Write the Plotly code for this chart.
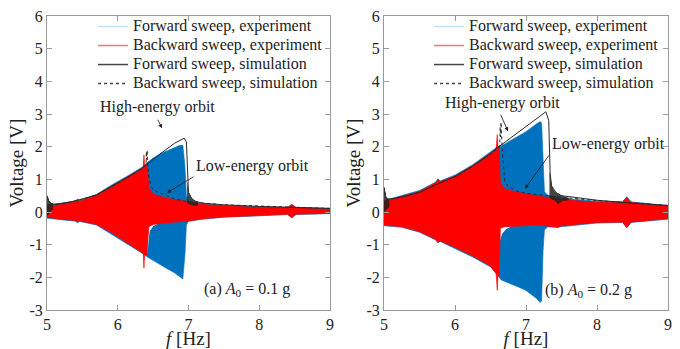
import plotly.graph_objects as go

# ---------------- data ----------------
# Panel (a): A0 = 0.1 g
fa_fwd = [5.00, 5.20, 5.40, 5.43, 5.46, 5.70, 5.90, 6.15, 6.35, 6.42, 6.50, 6.60, 6.70, 6.80, 6.88, 6.92, 6.95, 6.97, 7.00, 7.20, 7.50, 8.00, 8.40, 8.46, 8.52, 9.00]
va_fwd_top = [0.22, 0.28, 0.33, 0.40, 0.35, 0.54, 0.81, 1.12, 1.38, 1.52, 1.65, 1.78, 1.88, 1.97, 2.04, 2.04, 1.40, 0.50, 0.33, 0.25, 0.20, 0.16, 0.14, 0.24, 0.14, 0.11]
va_fwd_bot = [-0.19, -0.24, -0.28, -0.33, -0.29, -0.40, -0.65, -1.00, -1.27, -1.38, -1.50, -1.62, -1.74, -1.86, -1.98, -2.05, -1.30, -0.40, -0.28, -0.22, -0.16, -0.12, -0.08, -0.18, -0.08, -0.05]

fa_hole = [6.420, 6.428, 6.435, 6.45, 6.50, 6.56]
va_hole_top = [-0.45, -0.42, -0.40, -0.38, -0.37, -0.36]
va_hole_bot = [-1.30, -1.20, -0.90, -0.60, -0.44, -0.37]

fa_bwd = [5.00, 5.20, 5.40, 5.43, 5.46, 5.70, 5.90, 6.15, 6.34, 6.36, 6.37, 6.38, 6.41, 6.42, 6.44, 6.50, 6.60, 6.75, 7.00, 7.20, 7.50, 8.00, 8.40, 8.46, 8.52, 9.00]
va_bwd_top = [0.19, 0.25, 0.31, 0.38, 0.33, 0.52, 0.78, 1.09, 1.33, 1.36, 1.75, 1.40, 1.45, 1.45, 0.75, 0.55, 0.48, 0.40, 0.32, 0.24, 0.19, 0.14, 0.13, 0.23, 0.13, 0.10]
va_bwd_bot = [-0.16, -0.22, -0.26, -0.31, -0.27, -0.38, -0.62, -0.97, -1.24, -1.28, -1.72, -1.30, -1.33, -1.33, -0.45, -0.38, -0.35, -0.32, -0.28, -0.21, -0.15, -0.11, -0.07, -0.17, -0.07, -0.04]

fa_simf = [5.00, 5.02, 5.05, 5.10, 5.20, 5.42, 5.70, 5.90, 6.15, 6.34, 6.42, 6.60, 6.80, 6.90, 6.94, 6.97, 6.99, 7.00, 7.05, 7.10, 7.20, 7.50, 8.00, 8.50, 9.00]
va_simf = [0.50, 0.36, 0.27, 0.23, 0.25, 0.35, 0.52, 0.76, 1.07, 1.33, 1.47, 1.78, 2.10, 2.23, 2.26, 2.15, 1.20, 0.60, 0.40, 0.33, 0.27, 0.22, 0.17, 0.14, 0.11]

fa_ring1 = [5.00, 5.02, 5.05, 5.08]
va_ring1_top = [0.50, 0.36, 0.27, 0.23]
va_ring1_bot = [-0.12, -0.08, 0.00, 0.08]
fa_ring2 = [6.98, 7.00, 7.04, 7.08, 7.13]
va_ring2_top = [0.90, 0.60, 0.42, 0.34, 0.29]
va_ring2_bot = [0.28, 0.25, 0.22, 0.20, 0.20]

fa_simb = [9.00, 8.50, 8.00, 7.50, 7.00, 6.80, 6.64, 6.55, 6.48, 6.44, 6.42, 6.415, 6.41, 6.405, 6.40, 6.34, 6.15, 5.90, 5.70, 5.42, 5.20, 5.10, 5.05, 5.02, 5.00]
va_simb = [0.11, 0.14, 0.17, 0.22, 0.31, 0.40, 0.55, 0.62, 0.74, 1.05, 1.50, 1.90, 1.60, 1.85, 1.45, 1.33, 1.07, 0.76, 0.52, 0.35, 0.25, 0.23, 0.27, 0.36, 0.50]

# Panel (b): A0 = 0.2 g
fb_fwd = [5.00, 5.25, 5.50, 5.73, 5.76, 5.79, 6.00, 6.25, 6.50, 6.60, 6.65, 6.75, 6.90, 7.00, 7.15, 7.20, 7.22, 7.24, 7.26, 7.30, 7.50, 8.00, 8.36, 8.42, 8.48, 9.00]
vb_fwd_top = [0.35, 0.50, 0.66, 0.92, 1.02, 0.95, 1.13, 1.45, 1.83, 2.00, 2.02, 2.14, 2.33, 2.46, 2.70, 2.77, 2.72, 1.40, 0.62, 0.52, 0.42, 0.33, 0.31, 0.47, 0.31, 0.20]
vb_fwd_bot = [-0.42, -0.47, -0.62, -0.86, -0.95, -0.90, -1.11, -1.38, -1.68, -1.92, -2.08, -2.18, -2.30, -2.40, -2.65, -2.77, -2.72, -1.20, -0.55, -0.46, -0.45, -0.34, -0.32, -0.49, -0.32, -0.22]

fb_hole = [6.625, 6.632, 6.66, 6.72, 6.78]
vb_hole_top = [-0.50, -0.48, -0.46, -0.45, -0.45]
vb_hole_bot = [-2.00, -0.90, -0.68, -0.52, -0.46]

fb_bwd = [5.00, 5.25, 5.50, 5.73, 5.76, 5.79, 6.00, 6.25, 6.50, 6.58, 6.595, 6.605, 6.62, 6.64, 6.70, 6.85, 7.00, 7.20, 7.45, 7.50, 8.00, 8.36, 8.42, 8.48, 9.00]
vb_bwd_top = [0.32, 0.48, 0.63, 0.90, 1.00, 0.93, 1.10, 1.42, 1.80, 1.95, 2.37, 1.98, 2.00, 0.90, 0.72, 0.62, 0.55, 0.48, 0.40, 0.38, 0.30, 0.29, 0.45, 0.29, 0.18]
vb_bwd_bot = [-0.40, -0.45, -0.60, -0.84, -0.93, -0.88, -1.08, -1.35, -1.65, -1.90, -2.40, -1.95, -1.97, -0.50, -0.45, -0.44, -0.43, -0.40, -0.48, -0.42, -0.32, -0.31, -0.47, -0.31, -0.20]

fb_simf = [5.00, 5.02, 5.04, 5.10, 5.25, 5.50, 5.75, 6.00, 6.25, 6.50, 6.60, 6.80, 7.00, 7.20, 7.25, 7.28, 7.32, 7.34, 7.36, 7.42, 7.50, 8.00, 8.50, 9.00]
vb_simf = [0.75, 0.50, 0.40, 0.40, 0.46, 0.60, 0.86, 1.08, 1.40, 1.78, 1.97, 2.30, 2.62, 2.95, 3.04, 3.07, 2.80, 1.20, 0.80, 0.60, 0.50, 0.36, 0.27, 0.20]

fb_ring1 = [5.00, 5.02, 5.04, 5.07]
vb_ring1_top = [0.75, 0.50, 0.40, 0.38]
vb_ring1_bot = [0.00, 0.05, 0.10, 0.15]
fb_ring2 = [7.33, 7.36, 7.40, 7.45, 7.52, 7.60]
vb_ring2_top = [1.20, 0.80, 0.63, 0.55, 0.48, 0.43]
vb_ring2_bot = [0.45, 0.40, 0.37, 0.25, 0.35, 0.37]

fb_simb = [9.00, 8.50, 8.00, 7.50, 7.20, 7.00, 6.87, 6.75, 6.70, 6.68, 6.665, 6.655, 6.648, 6.642, 6.636, 6.63, 6.50, 6.25, 6.00, 5.75, 5.50, 5.25, 5.10, 5.04, 5.02, 5.00]
vb_simb = [0.20, 0.27, 0.35, 0.45, 0.51, 0.57, 0.64, 0.78, 0.95, 1.40, 1.96, 2.40, 2.75, 2.30, 2.60, 2.00, 1.78, 1.40, 1.08, 0.86, 0.60, 0.46, 0.40, 0.40, 0.50, 0.75]

legend_names = ["Forward sweep, experiment", "Backward sweep, experiment",
                "Forward sweep, simulation", "Backward sweep, simulation"]
x_ticks = [5, 6, 7, 8, 9]
y_ticks = [-3, -2, -1, 0, 1, 2, 3, 4, 5, 6]
y_tick_text = ["-3", "-2", "-1", "0", "1", "2", "3", "4", "5", "6"]

# ---------------- styling ----------------
W, H = 680, 349
ML, MR, MT, MB = 47, 12, 14, 39
PW, PH = W - ML - MR, H - MT - MB
FONT = "Liberation Serif, Times New Roman, serif"
BLUE = "#0072BD"
RED = "#FF0000"
DARK = "#2a2a2a"
AXC = "#9a9a9a"

def pp(px, py):
    return (px - ML) / PW, (H - MB - py) / PH

fig = go.Figure()

def band(f, top, bot, color, xa, ya, lw=0.6):
    fig.add_trace(go.Scatter(
        x=list(f) + list(f)[::-1], y=list(top) + list(bot)[::-1],
        fill="toself", fillcolor=color, mode="lines",
        line=dict(color=color, width=lw),
        showlegend=False, hoverinfo="skip", xaxis=xa, yaxis=ya))

panels = [
    dict(xa="x", ya="y", leg="legend",
         fwd=(fa_fwd, va_fwd_top, va_fwd_bot), hole=(fa_hole, va_hole_top, va_hole_bot),
         bwd=(fa_bwd, va_bwd_top, va_bwd_bot),
         rings=[(fa_ring1, va_ring1_top, va_ring1_bot), (fa_ring2, va_ring2_top, va_ring2_bot)],
         simf=(fa_simf, va_simf), simb=(fa_simb, va_simb)),
    dict(xa="x2", ya="y2", leg="legend2",
         fwd=(fb_fwd, vb_fwd_top, vb_fwd_bot), hole=(fb_hole, vb_hole_top, vb_hole_bot),
         bwd=(fb_bwd, vb_bwd_top, vb_bwd_bot),
         rings=[(fb_ring1, vb_ring1_top, vb_ring1_bot), (fb_ring2, vb_ring2_top, vb_ring2_bot)],
         simf=(fb_simf, vb_simf), simb=(fb_simb, vb_simb)),
]

styles = [dict(color="#bfe0f5", width=1.5), dict(color="#ff7070", width=1.5),
          dict(color="#444444", width=1.5), dict(color="#444444", width=1.5, dash="dot")]

for p in panels:
    xa, ya = p["xa"], p["ya"]
    band(*p["fwd"], BLUE, xa, ya)
    band(*p["hole"], "#ffffff", xa, ya, lw=0)
    band(*p["bwd"], RED, xa, ya)
    for r in p["rings"]:
        band(*r, "rgba(35,35,35,0.85)", xa, ya, lw=0.5)
    fig.add_trace(go.Scatter(x=p["simf"][0], y=p["simf"][1], mode="lines",
                             line=dict(color=DARK, width=1), showlegend=False,
                             hoverinfo="skip", xaxis=xa, yaxis=ya))
    fig.add_trace(go.Scatter(x=p["simb"][0], y=p["simb"][1], mode="lines",
                             line=dict(color=DARK, width=1, dash="dot"), showlegend=False,
                             hoverinfo="skip", xaxis=xa, yaxis=ya))
    for name, st in zip(legend_names, styles):
        fig.add_trace(go.Scatter(x=[None], y=[None], mode="lines",
                                 name='<span style="font-size:16px">%s</span>' % name, line=st,
                                 legend=p["leg"], xaxis=xa, yaxis=ya))

def axis(**kw):
    d = dict(showline=True, linecolor=AXC, linewidth=1, mirror="ticks",
             ticks="inside", ticklen=5, tickcolor=AXC, showgrid=False, zeroline=False,
             automargin=False, tickfont=dict(family=FONT, size=16, color="#222"))
    d.update(kw)
    return d

xa_dom = [0, (330 - ML) / PW]
xb_dom = [(384 - ML) / PW, 1]

def legend_at(px_text_left, py_top):
    x, y = pp(px_text_left - 40, py_top)
    return dict(x=x, y=y, xanchor="left", yanchor="top", bgcolor="rgba(0,0,0,0)",
                font=dict(family=FONT, size=11.5, color="#222"), tracegroupgap=0)

fig.update_layout(
    width=W, height=H, margin=dict(l=ML, r=MR, t=MT, b=MB),
    paper_bgcolor="white", plot_bgcolor="white",
    font=dict(family=FONT, size=16, color="#222"),
    xaxis=axis(domain=xa_dom, anchor="y", range=[5, 9], tickvals=x_ticks,
               title=dict(text="<i>f</i> [Hz]", standoff=0)),
    yaxis=axis(domain=[0, 1], anchor="x", range=[-3, 6], tickvals=y_ticks, ticktext=y_tick_text,
               title=dict(text="Voltage [V]", standoff=0)),
    xaxis2=axis(domain=xb_dom, anchor="y2", range=[5, 9], tickvals=x_ticks,
                title=dict(text="<i>f</i> [Hz]", standoff=0)),
    yaxis2=axis(domain=[0, 1], anchor="x2", range=[-3, 6], tickvals=y_ticks, ticktext=y_tick_text,
                title=dict(text="Voltage [V]", standoff=0)),
    legend=legend_at(133, 10),
    legend2=legend_at(469, 10),
    showlegend=True,
)

texts = [
    ("High-energy orbit", 157, 106),
    ("Low-energy orbit", 253, 165),
    ("High-energy orbit", 502, 102),
    ("Low-energy orbit", 608, 143),
    ("(a) <i>A</i><sub>0</sub> = 0.1 g", 247, 289),
    ("(b) <i>A</i><sub>0</sub> = 0.2 g", 588, 290),
]
for t, px, py in texts:
    x, y = pp(px, py)
    fig.add_annotation(text=t, x=x, y=y, xref="paper", yref="paper", showarrow=False,
                       xanchor="center", yanchor="middle",
                       font=dict(family=FONT, size=16, color="#222"))

arrows = [(162, 127, 157, 117), (167, 192, 195, 175), (508, 130, 500, 112), (525, 188, 550, 153)]
for hx, hy, tx, ty in arrows:
    x, y = pp(hx, hy)
    fig.add_annotation(text="", x=x, y=y, xref="paper", yref="paper", ax=tx - hx, ay=ty - hy,
                       showarrow=True, arrowhead=2, arrowsize=0.9, arrowwidth=0.9, arrowcolor="#222")

fig.write_html("out.html")
